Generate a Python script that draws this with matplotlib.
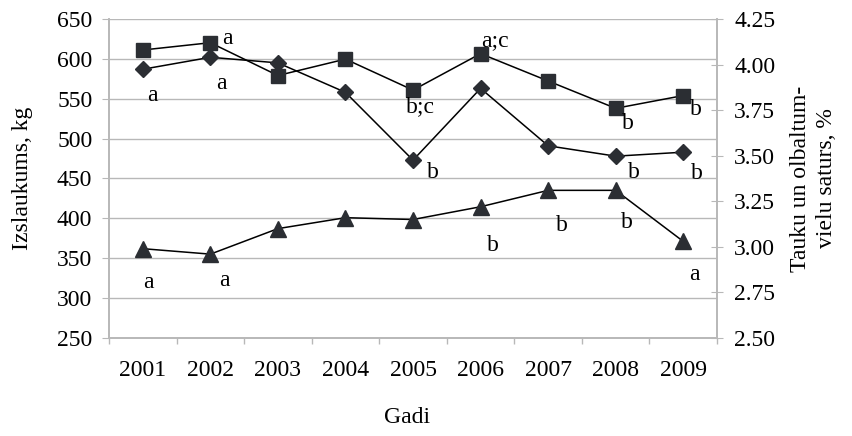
import numpy as np
import matplotlib
matplotlib.use("Agg")
import matplotlib.pyplot as plt
from matplotlib.ticker import FixedLocator, NullFormatter

plt.rcParams['font.family'] = ['Liberation Serif', 'DejaVu Serif']

# dati
gadi = ['2001', '2002', '2003', '2004', '2005', '2006', '2007', '2008', '2009']
izslaukums = [587, 602, 595, 558, 473, 563, 491, 478, 483]          # kg, rombi
tauki = [4.08, 4.12, 3.94, 4.03, 3.86, 4.06, 3.91, 3.76, 3.83]       # %, kvadrati
olbaltumvielas = [2.99, 2.96, 3.10, 3.16, 3.15, 3.22, 3.31, 3.31, 3.03]  # %, trijsturi

# burtu apzimejumi (gads index, teksts)
burti_izsl = [(0, 'a'), (1, 'a'), (4, 'b'), (7, 'b'), (8, 'b')]
burti_tauki = [(1, 'a'), (4, 'b;c'), (5, 'a;c'), (7, 'b'), (8, 'b')]
burti_olb = [(0, 'a'), (1, 'a'), (5, 'b'), (6, 'b'), (7, 'b'), (8, 'a')]

fs = 17
krasa = '#2b2e33'
peleks = '#b8b8b8'

fig = plt.figure(figsize=(8.53, 4.36), dpi=100)
ax = fig.add_axes([0.1278, 0.2248, 0.8406 - 0.1278, 0.9564 - 0.2248])
ax2 = ax.twinx()

x = np.arange(len(gadi))

ax.plot(x, izslaukums, color='black', lw=1.1, marker='D', ms=8.5,
        mfc=krasa, mec=krasa, zorder=3)
ax2.plot(x, tauki, color='black', lw=1.1, marker='s', ms=9.5,
         mfc=krasa, mec=krasa, zorder=3)
ax2.plot(x, olbaltumvielas, color='black', lw=1.1, marker='^', ms=11,
         mfc=krasa, mec=krasa, zorder=3)

ax.set_xlim(-0.5, len(gadi) - 0.5)
ax.set_ylim(250, 650)
ax2.set_ylim(2.5, 4.25)

ax.set_yticks(np.arange(250, 651, 50))
ax2.set_yticks(np.arange(2.5, 4.26, 0.25))
ax2.set_yticklabels(['%.2f' % v for v in np.arange(2.5, 4.26, 0.25)])

ax.set_xticks(x)
ax.set_xticklabels(gadi)
ax.xaxis.set_minor_locator(FixedLocator(np.arange(-0.5, len(gadi), 1)))
ax.xaxis.set_minor_formatter(NullFormatter())
ax.tick_params(axis='x', which='major', length=0, pad=16, labelsize=fs)
ax.tick_params(axis='x', which='minor', length=4.5, color=peleks, width=1)
ax.tick_params(axis='y', length=5, color=peleks, labelsize=fs, pad=7)
ax2.tick_params(axis='y', length=8.5, direction='inout', color=peleks,
                labelsize=fs, pad=8)

ax.grid(axis='y', color=peleks, lw=1)
ax.set_axisbelow(True)
for a in (ax, ax2):
    for s in a.spines.values():
        s.set_color(peleks)
        s.set_linewidth(1.2)
ax.spines['top'].set_visible(False)
ax2.spines['top'].set_visible(False)

ax.set_xlabel('Gadi', fontsize=fs)
ax.xaxis.set_label_coords(0.49, -0.215)
ax.set_ylabel('Izslaukums, kg', fontsize=fs)
ax.yaxis.set_label_coords(-0.125, 0.5)
ax2.set_ylabel('Tauku un olbaltum-\nvielu saturs, %', fontsize=fs,
               linespacing=1.3)
ax2.yaxis.set_label_coords(1.12, 0.5)

# burti pie punktiem (nobides punktos)
nob_izsl = {0: (7, -19), 1: (8, -19), 4: (14, -9), 7: (13, -12), 8: (10, -15)}
nob_tauki = {1: (12, 3), 4: (5, -12), 5: (10, 9), 7: (9, -11), 8: (9, -10)}
nob_olb = {0: (4, -24), 1: (10, -19), 5: (9, -28), 6: (10, -25),
           7: (8, -23), 8: (8, -24)}

for i, t in burti_izsl:
    ax.annotate(t, (x[i], izslaukums[i]), xytext=nob_izsl[i],
                textcoords='offset points', ha='center', va='center', fontsize=fs)
for i, t in burti_tauki:
    ax2.annotate(t, (x[i], tauki[i]), xytext=nob_tauki[i],
                 textcoords='offset points', ha='center', va='center', fontsize=fs)
for i, t in burti_olb:
    ax2.annotate(t, (x[i], olbaltumvielas[i]), xytext=nob_olb[i],
                 textcoords='offset points', ha='center', va='center', fontsize=fs)

fig.savefig('out.png', dpi=100)
